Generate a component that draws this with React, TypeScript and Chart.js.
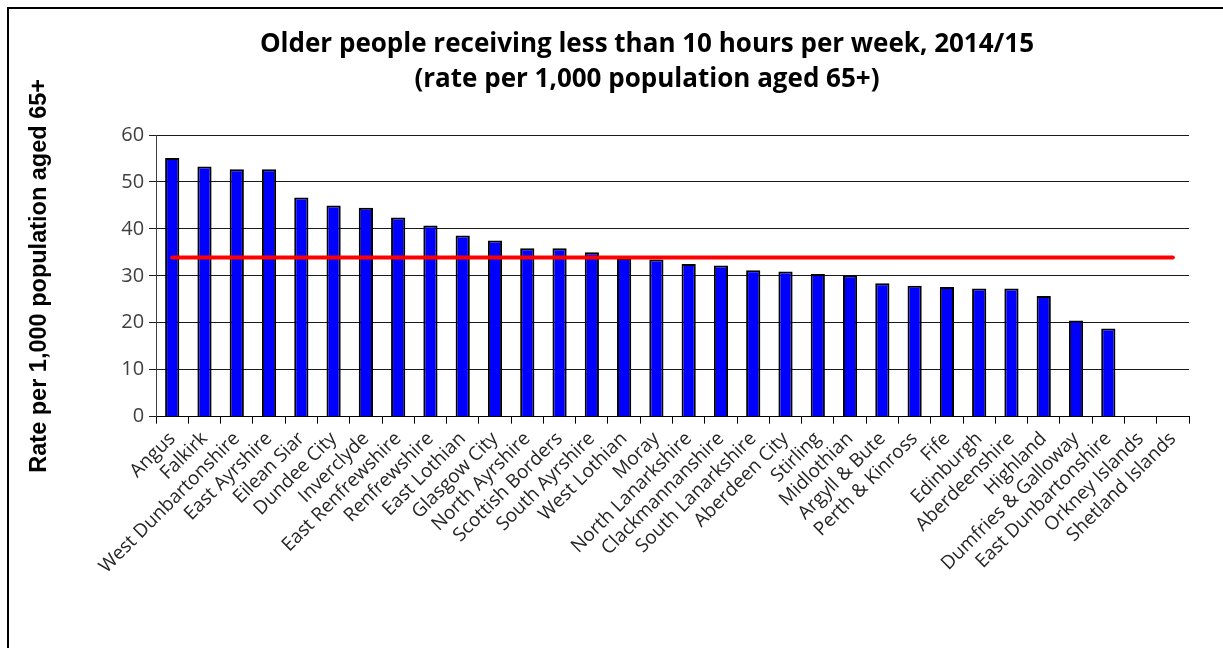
import React, { useEffect, useRef } from "react";
import { Chart, registerables } from "chart.js";

Chart.register(...registerables);

const categories = [
  "Angus", "Falkirk", "West Dunbartonshire", "East Ayrshire", "Eilean Siar",
  "Dundee City", "Inverclyde", "East Renfrewshire", "Renfrewshire", "East Lothian",
  "Glasgow City", "North Ayrshire", "Scottish Borders", "South Ayrshire", "West Lothian",
  "Moray", "North Lanarkshire", "Clackmannanshire", "South Lanarkshire", "Aberdeen City",
  "Stirling", "Midlothian", "Argyll & Bute", "Perth & Kinross", "Fife",
  "Edinburgh", "Aberdeenshire", "Highland", "Dumfries & Galloway", "East Dunbartonshire",
  "Orkney Islands", "Shetland Islands",
];

const rates: (number | null)[] = [
  55.1, 53.3, 52.7, 52.7, 46.7,
  45.0, 44.5, 42.4, 40.7, 38.6,
  37.5, 35.9, 35.9, 35.0, 33.8,
  33.5, 32.5, 32.2, 31.2, 30.9,
  30.4, 30.1, 28.4, 27.9, 27.6,
  27.3, 27.3, 25.7, 20.5, 18.8,
  null, null,
];

const scotlandAverage = 33.9;

const titleLines = [
  "Older people receiving less than 10 hours per week, 2014/15",
  "(rate per 1,000 population aged 65+)",
];

const yAxisTitle = "Rate per 1,000 population aged 65+";
const yMin = 0;
const yMax = 60;
const yStep = 10;

const titlePlugin = {
  id: "twoLineTitle",
  afterDraw(chart: any) {
    const ctx = chart.ctx;
    ctx.save();
    ctx.font = "bold 26px 'Open Sans'";
    ctx.fillStyle = "#000000";
    ctx.textAlign = "center";
    ctx.textBaseline = "middle";
    titleLines.forEach((line, i) => {
      ctx.fillText(line, 637, 35 + i * 35);
    });
    ctx.restore();
  },
};

export default function App() {
  const canvasRef = useRef<HTMLCanvasElement | null>(null);

  useEffect(() => {
    if (!canvasRef.current) return;
    const chart = new Chart(canvasRef.current, {
      type: "bar",
      data: {
        labels: categories,
        datasets: [
          {
            type: "line",
            label: "Scotland",
            data: categories.map(() => scotlandAverage),
            borderColor: "#FF0000",
            borderWidth: 4,
            borderCapStyle: "round",
            pointRadius: 0,
            fill: false,
            order: 0,
          } as any,
          {
            type: "bar",
            label: "Rate",
            data: rates,
            backgroundColor: "#0000FF",
            borderColor: "#000000",
            borderWidth: 2,
            borderSkipped: "bottom",
            categoryPercentage: 1,
            barPercentage: 0.44,
            order: 1,
          } as any,
        ],
      },
      options: {
        animation: false,
        responsive: false,
        maintainAspectRatio: false,
        layout: { padding: { top: 125, left: 10, right: 34, bottom: 66 } },
        plugins: {
          legend: { display: false },
          title: { display: false },
          tooltip: { enabled: false },
        },
        scales: {
          x: {
            offset: true,
            grid: {
              display: true,
              offset: true,
              drawOnChartArea: false,
              drawTicks: true,
              tickLength: 7,
              color: "#000000",
            },
            border: { display: true, color: "#000000", width: 1 },
            ticks: {
              autoSkip: false,
              maxRotation: 45,
              minRotation: 45,
              padding: 4,
              color: "#262626",
              font: { family: "'Open Sans'", size: 19 },
            },
          },
          y: {
            min: yMin,
            max: yMax,
            grid: {
              color: "#1a1a1a",
              lineWidth: 1,
              drawTicks: true,
              tickLength: 7,
            },
            border: { display: true, color: "#404040", width: 1 },
            ticks: {
              stepSize: yStep,
              padding: 5,
              color: "#404040",
              font: { family: "'Open Sans'", size: 20 },
            },
            title: {
              display: true,
              text: yAxisTitle,
              color: "#000000",
              font: { family: "'Liberation Sans'", size: 23.5, weight: "bold" },
              padding: { top: 5, bottom: 63 },
            },
          },
        },
      },
      plugins: [titlePlugin],
    });
    return () => chart.destroy();
  }, []);

  return (
    <div
      style={{
        position: "fixed",
        left: 0,
        top: 0,
        width: 1223,
        height: 648,
        overflow: "hidden",
        background: "#ffffff",
      }}
    >
      <div
        style={{
          position: "absolute",
          left: 7,
          top: 7,
          width: 1300,
          height: 700,
          borderTop: "2px solid #000000",
          borderLeft: "2px solid #000000",
        }}
      />
      <canvas
        ref={canvasRef}
        width={1213}
        height={638}
        style={{ position: "absolute", left: 10, top: 10, width: 1213, height: 638 }}
      />
    </div>
  );
}
